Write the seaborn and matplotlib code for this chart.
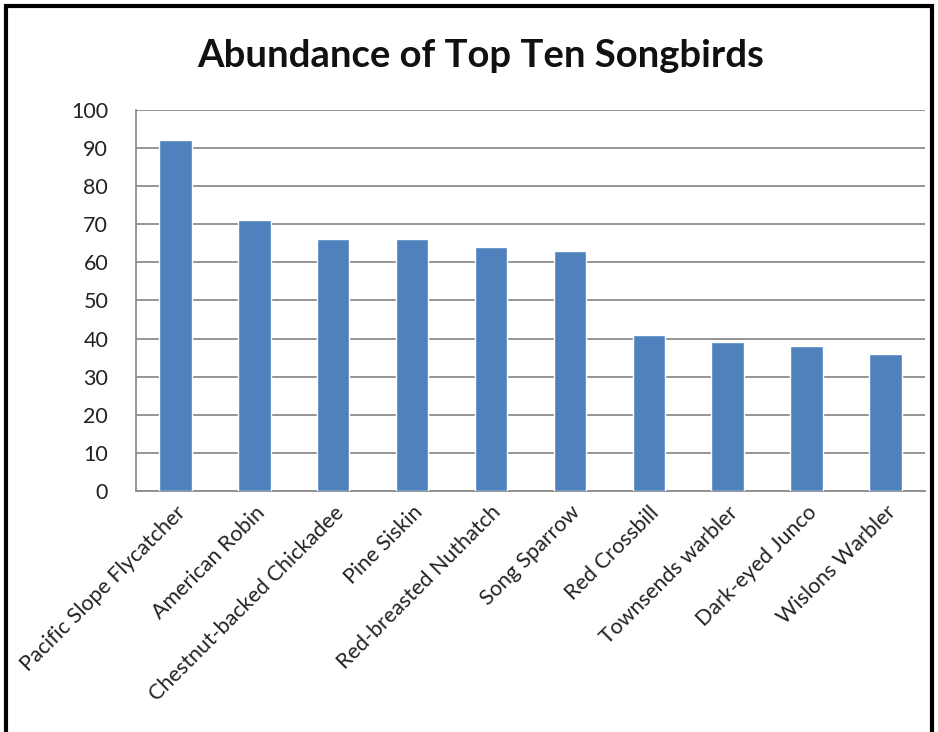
import matplotlib
matplotlib.use("Agg")
import matplotlib.pyplot as plt
from matplotlib.patches import Rectangle
import pandas as pd
import seaborn as sns

birds = [
    "Pacific Slope Flycatcher",
    "American Robin",
    "Chestnut-backed Chickadee",
    "Pine Siskin",
    "Red-breasted Nuthatch",
    "Song Sparrow",
    "Red Crossbill",
    "Townsends warbler",
    "Dark-eyed Junco",
    "Wislons Warbler",
]
abundance = [92, 71, 66, 66, 64, 63, 41, 39, 38, 36]
y_ticks = list(range(0, 101, 10))

df = pd.DataFrame({"bird": birds, "abundance": abundance})

sns.set_style("white")
plt.rcParams["font.family"] = ["Lato", "DejaVu Sans"]

fig = plt.figure(figsize=(9.38, 7.32), dpi=100)
ax = fig.add_axes([0.145, 0.329, 0.841, 0.521])

sns.barplot(data=df, x="bird", y="abundance", color="#4F81BD",
            saturation=1, width=0.41, ax=ax, zorder=3)

ax.set_ylim(0, 100)
ax.set_yticks(y_ticks)
ax.set_xlim(-0.5, len(birds) - 0.5)
ax.yaxis.grid(True, color="#8c8c8c", linewidth=1.3, zorder=0)
ax.set_axisbelow(True)
for side in ["top", "right"]:
    ax.spines[side].set_visible(False)
for side in ["left", "bottom"]:
    ax.spines[side].set_color("#8c8c8c")
    ax.spines[side].set_linewidth(1.3)

ax.set_xlabel("")
ax.set_ylabel("")
ax.tick_params(axis="y", length=0, pad=20, labelsize=15.5, colors="#222222")
ax.tick_params(axis="x", length=0, pad=8, labelsize=15.5, colors="#222222")
plt.setp(ax.get_xticklabels(), rotation=45, ha="right", rotation_mode="anchor")

fig.text(0.512, 0.923, "Abundance of Top Ten Songbirds", ha="center", va="center",
         fontsize=27.5, fontweight="bold", color="#111111")

fig.patches.append(Rectangle((0.006, -0.01), 0.988, 1.002, transform=fig.transFigure,
                             fill=False, edgecolor="black", linewidth=3))

fig.savefig("out.png", dpi=100)
